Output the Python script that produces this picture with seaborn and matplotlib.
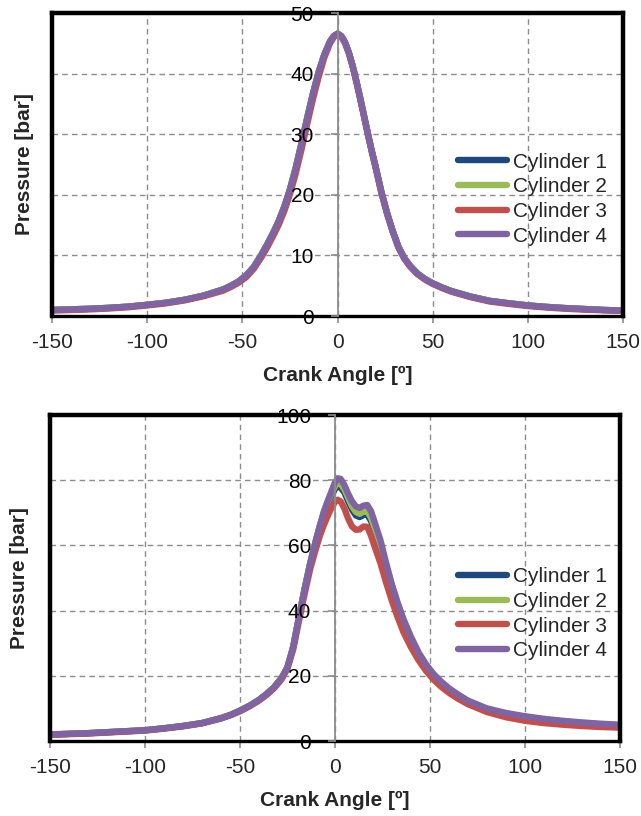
import matplotlib
matplotlib.use("Agg")
import matplotlib.pyplot as plt
import seaborn as sns

# ---- motored pressure traces (upper panel) ----
angle_top = [-150, -140, -130, -120, -110, -100, -90, -80, -70, -60, -56, -52, -48, -44, -40,
             -37, -34, -31, -28, -25, -22, -19, -16, -13, -10, -7, -4, -2, 0, 2, 4, 6, 8, 10,
             12, 14, 16, 18, 20, 23, 26, 29, 32, 35, 38, 42, 46, 50, 55, 60, 70, 80, 90, 100,
             110, 120, 130, 140, 150]
top_cyl1 = [1.0, 1.1, 1.2, 1.35, 1.55, 1.85, 2.2, 2.7, 3.4, 4.4, 5.0, 5.7, 6.7, 8.1, 10.1,
            11.8, 13.6, 15.6, 18.0, 20.9, 24.4, 28.4, 32.6, 36.6, 40.2, 43.1, 45.3, 46.2, 46.6,
            46.2, 45.1, 43.4, 41.2, 38.6, 35.8, 32.9, 30.0, 27.2, 24.6, 20.5, 17.0, 14.0, 11.4,
            9.6, 8.3, 7.0, 6.1, 5.4, 4.7, 4.1, 3.2, 2.5, 2.1, 1.75, 1.5, 1.3, 1.15, 1.0, 0.9]
top_cyl2 = [1.0, 1.1, 1.2, 1.35, 1.55, 1.85, 2.2, 2.7, 3.4, 4.4, 5.0, 5.7, 6.7, 8.1, 10.1,
            11.8, 13.6, 15.6, 18.0, 20.9, 24.4, 28.4, 32.6, 36.6, 40.2, 43.1, 45.3, 46.2, 46.6,
            46.2, 45.1, 43.4, 41.2, 38.6, 35.8, 32.9, 30.0, 27.2, 24.6, 20.5, 17.0, 14.0, 11.4,
            9.6, 8.3, 7.0, 6.1, 5.4, 4.7, 4.1, 3.2, 2.5, 2.1, 1.75, 1.5, 1.3, 1.15, 1.0, 0.9]
top_cyl3 = [0.9, 1.0, 1.1, 1.25, 1.45, 1.75, 2.1, 2.6, 3.3, 4.2, 4.8, 5.5, 6.4, 7.8, 9.7,
            11.3, 13.1, 15.0, 17.3, 20.1, 23.5, 27.4, 31.6, 35.7, 39.4, 42.6, 45.0, 46.0, 46.5,
            46.1, 45.0, 43.3, 41.1, 38.5, 35.7, 32.8, 29.9, 27.1, 24.5, 20.4, 16.9, 13.9, 11.3,
            9.5, 8.2, 6.9, 6.0, 5.3, 4.6, 4.0, 3.1, 2.4, 2.0, 1.65, 1.4, 1.2, 1.05, 0.95, 0.85]
top_cyl4 = [1.0, 1.1, 1.2, 1.35, 1.55, 1.85, 2.2, 2.7, 3.4, 4.4, 5.0, 5.7, 6.7, 8.1, 10.1,
            11.8, 13.6, 15.6, 18.0, 20.9, 24.4, 28.4, 32.6, 36.6, 40.2, 43.1, 45.3, 46.2, 46.6,
            46.2, 45.1, 43.4, 41.2, 38.6, 35.8, 32.9, 30.0, 27.2, 24.6, 20.5, 17.0, 14.0, 11.4,
            9.6, 8.3, 7.0, 6.1, 5.4, 4.7, 4.1, 3.2, 2.5, 2.1, 1.75, 1.5, 1.3, 1.15, 1.0, 0.9]

# ---- fired pressure traces (lower panel) ----
angle_bot = [-150, -140, -130, -120, -110, -100, -90, -80, -70, -60, -55, -50, -45, -40, -36,
             -32, -28, -25, -22, -19, -16, -13, -10, -8, -6, -4, -2, 0, 1.5, 3, 5, 7, 9, 11,
             13, 15, 17, 19, 21, 24, 27, 30, 33, 36, 40, 44, 48, 52, 56, 60, 65, 70, 80, 90,
             100, 110, 120, 130, 140, 150]
bot_cyl1 = [2.0, 2.2, 2.4, 2.7, 3.0, 3.3, 3.9, 4.6, 5.5, 7.0, 8.0, 9.3, 10.8, 12.6, 14.4,
            16.5, 19.4, 22.6, 28.8, 37.8, 46.5, 54.5, 61.5, 65.8, 69.5, 72.5, 75.0, 77.3, 78.2,
            77.8, 76.2, 73.5, 71.0, 69.2, 68.7, 69.3, 69.5, 67.5, 64.5, 59.5, 53.3, 47.2, 41.6,
            36.8, 31.3, 26.6, 22.9, 20.0, 17.7, 15.8, 13.8, 12.0, 9.7, 8.3, 7.3, 6.5, 5.9, 5.4,
            5.0, 4.7]
bot_cyl2 = [2.0, 2.2, 2.4, 2.7, 3.0, 3.3, 3.9, 4.6, 5.5, 7.0, 8.0, 9.3, 10.8, 12.6, 14.4,
            16.5, 19.4, 22.6, 28.8, 37.8, 46.5, 54.5, 61.5, 65.8, 70.0, 73.0, 75.7, 78.2, 79.2,
            78.9, 77.2, 74.6, 72.0, 70.3, 69.7, 70.3, 70.5, 68.5, 65.3, 60.2, 53.8, 47.6, 42.0,
            37.1, 31.6, 26.9, 23.2, 20.2, 17.9, 16.0, 14.0, 12.2, 9.8, 8.4, 7.4, 6.6, 6.0, 5.5,
            5.1, 4.8]
bot_cyl3 = [1.9, 2.1, 2.3, 2.6, 2.9, 3.2, 3.8, 4.5, 5.4, 6.9, 7.9, 9.1, 10.6, 12.4, 14.1,
            16.2, 19.0, 22.2, 28.0, 36.6, 45.0, 52.8, 59.0, 62.8, 66.0, 68.8, 71.3, 73.3, 74.0,
            73.5, 71.3, 68.2, 65.8, 64.8, 64.9, 65.8, 65.7, 63.0, 59.5, 54.5, 48.5, 43.0, 38.0,
            33.5, 28.8, 24.8, 21.5, 18.8, 16.6, 14.8, 12.9, 11.3, 8.9, 7.3, 6.2, 5.5, 5.0, 4.6,
            4.3, 4.1]
bot_cyl4 = [2.0, 2.2, 2.4, 2.7, 3.0, 3.3, 3.9, 4.6, 5.5, 7.0, 8.0, 9.3, 10.8, 12.6, 14.4,
            16.5, 19.4, 22.6, 28.8, 37.8, 46.5, 54.5, 61.5, 65.8, 70.0, 73.3, 76.3, 79.3, 80.6,
            80.4, 78.5, 75.8, 73.5, 72.0, 71.5, 72.2, 72.4, 70.5, 67.0, 61.5, 54.5, 48.0, 42.5,
            37.5, 32.0, 27.2, 23.5, 20.5, 18.2, 16.2, 14.2, 12.4, 10.0, 8.6, 7.6, 6.8, 6.2, 5.7,
            5.3, 5.0]

labels = ["Cylinder 1", "Cylinder 2", "Cylinder 3", "Cylinder 4"]
colors = ["#1F497D", "#9BBB59", "#C0504D", "#8064A2"]
x_ticks = [-150, -100, -50, 0, 50, 100, 150]

sns.set_style("white")
plt.rcParams["font.family"] = ["Liberation Sans", "DejaVu Sans"]
plt.rcParams["axes.unicode_minus"] = False

fig = plt.figure(figsize=(6.41, 8.16), dpi=100)
ax_top = fig.add_axes([0.0811, 0.6127, 0.891, 0.3713])
ax_bot = fig.add_axes([0.078, 0.0919, 0.889, 0.3995])

GRID = "#8c8c8c"
FS = 15


def style_panel(ax, angles, series, ymax, ystep, legend_anchor, ylabel_x):
    for vals, lab, col in zip(series, labels, colors):
        sns.lineplot(x=angles, y=vals, ax=ax, color=col, label=lab, linewidth=4.6,
                     solid_capstyle="round", solid_joinstyle="round")
    ax.set_xlim(-150, 150)
    ax.set_ylim(0, ymax)
    ax.set_xticks(x_ticks)
    ax.set_yticks(list(range(0, ymax + 1, ystep)))
    ax.grid(True, color=GRID, linestyle=(0, (4, 3)), linewidth=1.0)
    for side in ["left", "top", "right"]:
        ax.spines[side].set_color("black")
        ax.spines[side].set_linewidth(3.2)
    ax.spines["bottom"].set_color("black")
    ax.spines["bottom"].set_linewidth(2.4)
    ax.tick_params(axis="x", direction="out", length=5, width=1.2, color=GRID,
                   labelsize=FS, pad=7, bottom=True)
    ax.tick_params(axis="y", left=False, labelleft=False)

    # value axis crossing the angle axis at 0 degrees
    sec = ax.secondary_yaxis(0.5)
    sec.set_alignment("left")
    sec.set_zorder(3)
    sec.set_yticks(list(range(0, ymax + 1, ystep)))
    for side in ["left", "right"]:
        sec.spines[side].set_color(GRID)
        sec.spines[side].set_linewidth(1.3)
    sec.tick_params(axis="y", direction="out", length=5, width=1.2, color=GRID,
                    labelcolor="black", labelsize=FS, pad=12)

    ax.set_xlabel("Crank Angle [º]", fontsize=FS, fontweight="bold", labelpad=10)
    ax.set_ylabel("Pressure [bar]", fontsize=FS, fontweight="bold")
    ax.yaxis.set_label_coords(ylabel_x, 0.5)

    ax.legend(loc="center left", bbox_to_anchor=legend_anchor, frameon=False,
              fontsize=FS, handlelength=2.35, handletextpad=0.29, labelspacing=0.27,
              borderpad=0, borderaxespad=0)


style_panel(ax_top, angle_top, [top_cyl1, top_cyl2, top_cyl3, top_cyl4], 50, 10,
            (0.711, 0.386), -0.032)
style_panel(ax_bot, angle_bot, [bot_cyl1, bot_cyl2, bot_cyl3, bot_cyl4], 100, 20,
            (0.716, 0.39), -0.036)

fig.savefig("out.png", dpi=100)
